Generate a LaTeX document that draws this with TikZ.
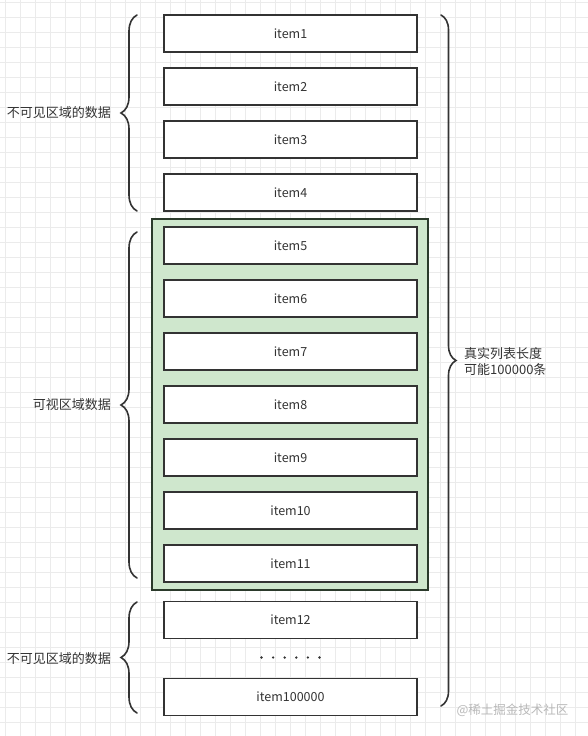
\documentclass[tikz,border=0pt]{standalone}
\usepackage{fontspec}
\setmainfont{Noto Sans CJK SC}
\usetikzlibrary{decorations.pathreplacing}
\definecolor{inkgray}{HTML}{333333}
\definecolor{viewgreen}{HTML}{CFE7CD}
\definecolor{viewedge}{HTML}{2B3A2B}
\definecolor{gridgray}{HTML}{EBEBEB}
\tikzset{
  itembox/.style={draw=inkgray, line width=1.8pt, fill=white, minimum width=253pt, minimum height=37pt, inner sep=0pt, text=inkgray, font=\fontsize{12.5}{15}\selectfont},
  bracemark/.style={draw=inkgray, line width=1.6pt, line cap=round, decorate, decoration={brace, amplitude=#1}},
  sidelabel/.style={text=inkgray, inner sep=0pt, font=\fontsize{13}{16}\selectfont}
}
\begin{document}
\begin{tikzpicture}[x=1pt, y=-1pt]
        \useasboundingbox (0,0) rectangle (588,736);
        % Background grid
        \fill[white] (0,0) rectangle (588,736);
        \foreach \gx in {5,20,...,585}
          \draw[gridgray, line width=0.8pt] (\gx,0) -- (\gx,736);
        \foreach \gy in {2,17,...,734}
          \draw[gridgray, line width=0.8pt] (0,\gy) -- (588,\gy);
        % Visible area
        \node[draw=viewedge, line width=1.8pt, fill=viewgreen, minimum width=276pt, minimum height=371pt, inner sep=0pt] (view) at (290,404.5) {};
        % Items
        \node[itembox] (item1) at (290.5,33.5) {item1};
        \node[itembox] (item2) at (290.5,86.5) {item2};
        \node[itembox] (item3) at (290.5,139.5) {item3};
        \node[itembox] (item4) at (290.5,192.5) {item4};
        \node[itembox] (item5) at (290.5,245.5) {item5};
        \node[itembox] (item6) at (290.5,298.5) {item6};
        \node[itembox] (item7) at (290.5,351.5) {item7};
        \node[itembox] (item8) at (290.5,404.5) {item8};
        \node[itembox] (item9) at (290.5,457.5) {item9};
        \node[itembox] (item10) at (290.5,510.5) {item10};
        \node[itembox] (item11) at (290.5,563.5) {item11};
        \node[itembox] (item12) at (290.5,620) {item12};
        \node[itembox] (itemlast) at (290.5,697) {item100000};
        % Ellipsis
        \foreach \dx in {0,11.6,23.2,34.8,46.4,58}
          \fill[inkgray] (261.5+\dx,657.5) circle (1.3pt);
        % Braces
        \coordinate (hidetopA) at (137,211);
        \coordinate (hidetopB) at (137,15);
        \coordinate (showA) at (137,578);
        \coordinate (showB) at (137,232);
        \coordinate (hidebotA) at (137,713);
        \coordinate (hidebotB) at (137,602);
        \coordinate (totalA) at (441,15);
        \coordinate (totalB) at (441,706);
        \draw[bracemark=16pt] (hidetopA) -- (hidetopB);
        \draw[bracemark=16pt] (showA) -- (showB);
        \draw[bracemark=16pt] (hidebotA) -- (hidebotB);
        \draw[bracemark=15pt] (totalA) -- (totalB);
        % Labels
        \node[sidelabel, anchor=east] (hidetoplabel) at (111,113) {不可见区域的数据};
        \node[sidelabel, anchor=east] (showlabel) at (111,405) {可视区域数据};
        \node[sidelabel, anchor=east] (hidebotlabel) at (111,658.5) {不可见区域的数据};
        \node[sidelabel, anchor=west, align=left] (totallabel) at (464,362) {真实列表长度\\可能100000条};
        \node[text=gray!55, inner sep=0pt, font=\fontsize{12.5}{14}\selectfont] (mark) at (512.5,710) {@稀土掘金技术社区};
      \end{tikzpicture}
\end{document}
